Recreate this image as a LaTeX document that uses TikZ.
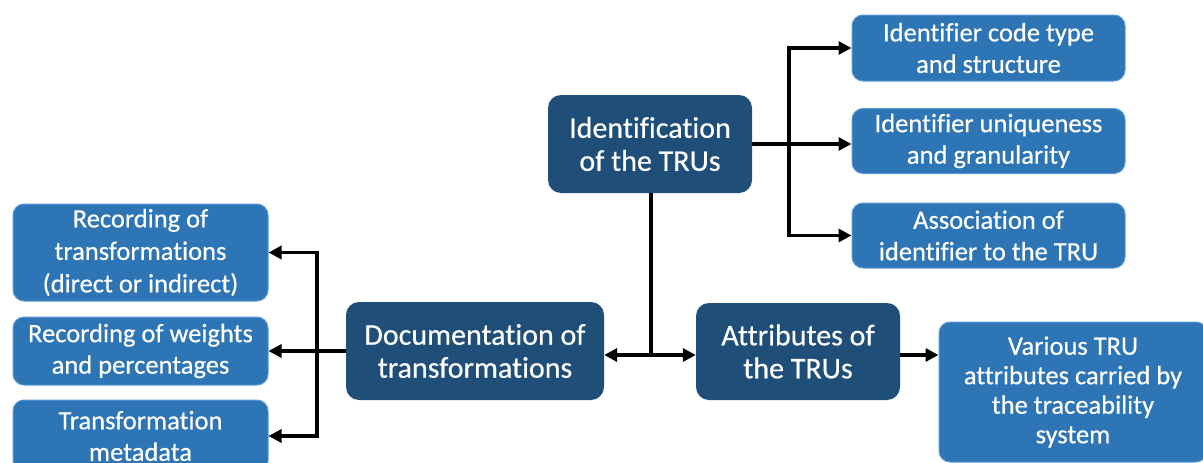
\documentclass[tikz,border=0pt]{standalone}
\usepackage{fontspec}
\setmainfont[Ligatures=NoCommon,FakeBold=0.4]{Carlito}
\usetikzlibrary{arrows.meta}
\definecolor{darkb}{HTML}{1F4E79}
\definecolor{lightb}{HTML}{2E75B6}
\definecolor{lightedge}{HTML}{5B9BD5}
\tikzset{
  darkbox/.style={fill=darkb, rounded corners=13pt, text=white, align=center,
    font=\fontsize{30}{33}\selectfont, inner sep=0pt},
  lightbox/.style={fill=lightb, draw=lightedge, line width=1pt, rounded corners=11pt,
    text=white, align=center, font=\fontsize{26.5}{31.5}\selectfont, inner sep=0pt},
  conn/.style={line width=3.5pt, -{Triangle[length=13pt,width=13pt]}},
  plain/.style={line width=3.5pt}
}
\begin{document}
\begin{tikzpicture}[x=1pt,y=-1pt]
\useasboundingbox (0,0) rectangle (1203,463);
\clip (0,0) rectangle (1203,463);
% main boxes
\node[darkbox, minimum width=204, minimum height=98] (ident) at (650,144) {Identification\\of the TRUs};
\node[darkbox, minimum width=258, minimum height=98] (doc) at (475,351) {Documentation of\\transformations};
\node[darkbox, minimum width=204, minimum height=97] (attr) at (798,351.5) {Attributes of\\the TRUs};
% right light boxes
\node[lightbox, minimum width=273, minimum height=66] (c1) at (988.5,48) {Identifier code type\\and structure};
\node[lightbox, minimum width=273, minimum height=65] (c2) at (988.5,141) {Identifier uniqueness\\and granularity};
\node[lightbox, minimum width=273, minimum height=65] (c3) at (988.5,235.5) {Association of\\identifier to the TRU};
% left light boxes
\node[lightbox, minimum width=255, minimum height=97, font=\fontsize{26.5}{32.5}\selectfont] (r1) at (140.5,252.5) {Recording of\\transformations\\(direct or indirect)};
\node[lightbox, minimum width=255, minimum height=68] (r2) at (140.5,351) {Recording of weights\\and percentages};
\node[lightbox, minimum width=255, minimum height=72] (r3) at (140.5,436) {Transformation\\metadata};
% various box
\node[lightbox, minimum width=268, minimum height=140, font=\fontsize{26.5}{29.5}\selectfont] (var) at (1073,392) {Various TRU\\attributes carried by\\the traceability\\system};
% coordinates
\coordinate (tr) at (789,144);
\coordinate (tl) at (317,351);
\coordinate (jn) at (651,355);
% connectors from Identification
\draw[plain] (ident.east |- tr) -- (tr);
\draw[conn] (tr) -- (tr |- c1.west) -- (c1.west);
\draw[conn] (tr) -- (c2.west |- tr);
\draw[conn] (tr) -- (tr |- c3.west) -- (c3.west);
% down to junction
\draw[plain] (ident.south -| jn) -- (jn);
\draw[conn] (jn) -- (doc.east |- jn);
\draw[conn] (jn) -- (attr.west |- jn);
% attributes to various
\draw[conn] (attr.east |- jn) -- (var.west |- jn);
% documentation to left boxes
\draw[plain] (doc.west) -- (tl);
\draw[conn] (tl) -- (tl |- r1.east) -- (r1.east);
\draw[conn] (tl) -- (r2.east |- tl);
\draw[conn] (tl) -- (tl |- r3.east) -- (r3.east);
\end{tikzpicture}
\end{document}
